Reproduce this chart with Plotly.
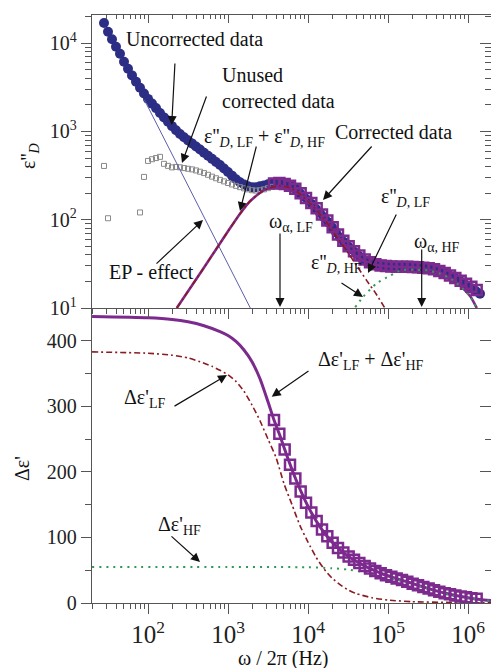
import plotly.graph_objects as go

FONT = "Liberation Serif"

# ---------------- data ----------------
# frequency grid of the measured (uncorrected) data, Hz
freq_meas = [28.18, 31.62, 35.48, 39.81, 44.67, 50.12, 56.23, 63.10, 70.79, 79.43, 89.13,
             100, 112.2, 125.9, 141.3, 158.5, 177.8, 199.5, 223.9, 251.2, 281.8, 316.2, 354.8,
             398.1, 446.7, 501.2, 562.3, 631.0, 707.9, 794.3, 891.3,
             1000, 1122, 1259, 1413, 1585, 1778, 1995, 2239, 2512, 2818, 3162, 3548, 3981,
             4467, 5012, 5623, 6310, 7079, 7943, 8913,
             10000, 11220, 12590, 14130, 15850, 17780, 19950, 22390, 25120, 28180, 31620,
             35480, 39810, 44670, 50120, 56230, 63100, 70790, 79430, 89130,
             100000, 112200, 125900, 141300, 158500, 177800, 199500, 223900, 251200, 281800,
             316200, 354800, 398100, 446700, 501200, 562300, 631000, 707900, 794300, 891300,
             1000000, 1122000, 1259000, 1413000]
eps_uncorrected = [16980, 13490, 11090, 9120, 7590, 6170, 5130, 4320, 3670, 3130, 2690,
                   2340, 2070, 1840, 1620, 1445, 1290, 1150, 1035, 938, 861, 794, 733,
                   676, 624, 575, 531, 490, 452, 417, 380,
                   347, 316, 288, 266, 251, 239, 233, 234, 240, 245, 252, 258, 262,
                   262, 257, 248, 237, 221, 200, 182,
                   166, 150, 132, 119, 107, 94, 82, 72, 63, 56, 50,
                   46, 42, 38, 35, 33, 31.8, 30.9, 30.3, 30.0,
                   29.6, 29.4, 29.3, 29.3, 29.3, 29.2, 29.2, 29.0, 28.8, 28.5,
                   28.1, 27.5, 26.8, 26.0, 25.0, 23.9, 22.6, 21.4, 20.2, 19.1,
                   17.8, 16.6, 15.5, 14.5]
eps_unused = [407, 104, None, None, None, None, None, None, None, 121, 306,
              464, 485, 500, 516, 430, 408, 392, 397, 393, 385, 378, 372,
              362, 350, 338, 323, 308, 295, 283, 272,
              261, 251, 242, 234, 227, 221, 216, 214, 216, 221, 228, 236]

# frequency grid of the corrected data, Hz
freq_corr = [3758, 4383, 5109, 5957, 6945, 8098, 9441, 11010, 12830, 14960, 17440, 20340,
             23710, 27650, 32230, 37580, 43830, 51090, 59570, 69450, 80980, 94410, 110100,
             128300, 149600, 174400, 203400, 237100, 276500, 322300, 375800, 438300, 511000,
             595700, 694500, 809800, 944100, 1101000, 1283000]
eps_corrected = [258, 260, 254, 243, 224, 200, 176, 155, 135, 115, 98, 82, 68, 58, 50, 44,
                 39.4, 35.5, 33.0, 31.4, 30.4, 29.9, 29.5, 29.3, 29.3, 29.3, 29.2, 29.0,
                 28.6, 28.2, 27.4, 26.3, 25.0, 23.4, 21.9, 20.4, 18.8, 17.4, 16.0]
deps_corrected = [279, 258, 234, 211, 190, 170, 153, 138, 125, 112, 102, 92, 84, 77, 71, 66,
                  61, 56.5, 52.5, 48.8, 45.5, 42.5, 40, 37.5, 35, 32.5, 29.5, 27, 24.5, 22,
                  19.5, 17.2, 15, 13.2, 11.5, 10, 8.6, 7.4, 6.3]

# electrode polarisation line
freq_ep = [90, 1900]
eps_ep = [2290, 10]

# fitted loss: LF + HF
freq_fit = [229, 490, 1000, 1413, 1884, 2754, 3548, 4467, 5623, 7244, 9120, 11750, 14790,
            18840, 23990, 30200, 40740, 60260, 89130, 141300, 223900, 316200, 446700,
            631000, 871000, 1072000, 1288000]
eps_fit = [10, 27.9, 74, 117, 162, 214, 234, 243, 234, 209, 174, 140, 110, 83, 63, 49,
           38, 32, 29.9, 29.2, 28.8, 27.5, 25.1, 21.4, 16.6, 13.5, 10]

freq_lf = [229, 490, 1000, 1413, 1884, 2754, 3548, 4467, 5623, 7244, 9120, 11750, 14790,
           18840, 23990, 30200, 40740, 53700, 70790, 91200]
eps_lf = [10, 27.9, 74, 117, 162, 214, 234, 243, 234, 209, 174, 140, 110, 83, 60, 45,
          30, 20.7, 14.5, 10]

freq_hf = [38900, 48980, 72440, 107200, 147900, 223900, 316200, 446700, 631000, 871000,
           1072000, 1288000]
eps_hf = [10.2, 13.4, 19.1, 23.4, 26.9, 27, 26.5, 24.5, 21, 16.4, 13.3, 9.9]

# real part (dielectric strength)
freq_re = [20, 100, 200, 316, 501, 794, 1000, 1259, 1585, 1995, 2512, 3162, 3758, 4467,
           5623, 7079, 8913, 11220, 14130, 17780, 22390, 28180, 35480, 44670, 56230, 70790,
           89130, 112200, 141300, 177800, 223900, 281800, 354800, 446700, 562300, 707900,
           891300, 1122000, 1413000, 1941000]
deps_total = [437, 435, 432.5, 429, 423, 414, 408, 399, 386, 368, 342, 307, 279, 255,
              220, 188, 160, 136, 116, 100, 87, 76, 67.5, 60.5, 54, 48.5, 43.5, 39.5, 35.5,
              32, 28, 24.3, 20.5, 17, 14, 11.3, 9, 7, 5.4, 3.8]
freq_re_lf = [20, 100, 200, 316, 447, 631, 794, 1000, 1259, 1585, 1995, 2512, 3162, 3981,
              5012, 6310, 7943, 10000, 12590, 15850, 19950, 25120, 31620, 39810, 63100,
              100000, 199500, 631000, 1941000]
deps_lf = [383, 381, 378, 374, 368, 361, 355, 348, 338, 323, 302, 278, 250, 222, 182, 150,
           118, 93, 70, 52, 38, 28, 20, 14.5, 8, 4.5, 2, 0.8, 0.3]
freq_re_hf = [20, 1000, 10000, 20000, 31620, 50120, 79430, 125900, 199500, 316200, 501200,
              794300, 1259000, 1941000]
deps_hf = [55, 55, 54.5, 53, 51, 47, 42, 36, 29, 21.5, 14.5, 9, 5.5, 3.5]

X_RANGE = [1.3, 6.2875]
Y_TOP_RANGE = [1, 4.32]
Y_BOT_RANGE = [0, 450]
Y_TOP_TICKS = [10, 100, 1000, 10000]
Y_TOP_LABELS = ["10<sup>1</sup>", "10<sup>2</sup>", "10<sup>3</sup>", "10<sup>4</sup>"]

NAVY = "#2c2d84"
PURPLE = "#7d2a8e"
MAROON = "#8b1a22"
GREEN = "#2f9a55"
EPC = "#5b5ea8"
GRAY = "#8a8a8a"
AX = "#555555"

fig = go.Figure()

# ---------------- top panel ----------------
fig.add_trace(go.Scatter(x=freq_meas, y=eps_uncorrected, mode="markers", xaxis="x2", yaxis="y2",
                         marker=dict(symbol="circle", size=10, color=NAVY), showlegend=False))
fig.add_trace(go.Scatter(x=freq_meas[:len(eps_unused)], y=eps_unused, mode="markers",
                         xaxis="x2", yaxis="y2",
                         marker=dict(symbol="square-open", size=5, color=GRAY, line=dict(width=1)),
                         showlegend=False))
fig.add_trace(go.Scatter(x=freq_corr, y=eps_corrected, mode="markers", xaxis="x2", yaxis="y2",
                         marker=dict(symbol="square-open", size=10, color=PURPLE,
                                     line=dict(width=2.5)), showlegend=False))
fig.add_trace(go.Scatter(x=freq_ep, y=eps_ep, mode="lines", xaxis="x2", yaxis="y2",
                         line=dict(color=EPC, width=1), showlegend=False))
fig.add_trace(go.Scatter(x=freq_fit, y=eps_fit, mode="lines", xaxis="x2", yaxis="y2",
                         line=dict(color=PURPLE, width=2.6, shape="spline", smoothing=0.6),
                         showlegend=False))
fig.add_trace(go.Scatter(x=freq_lf, y=eps_lf, mode="lines", xaxis="x2", yaxis="y2",
                         line=dict(color=MAROON, width=1.6, dash="6px,3px,2px,3px",
                                   shape="spline", smoothing=0.6), showlegend=False))
fig.add_trace(go.Scatter(x=freq_hf, y=eps_hf, mode="lines", xaxis="x2", yaxis="y2",
                         line=dict(color=GREEN, width=2, dash="2px,5px",
                                   shape="spline", smoothing=0.6), showlegend=False))

# ---------------- bottom panel ----------------
fig.add_trace(go.Scatter(x=freq_re, y=deps_total, mode="lines", xaxis="x", yaxis="y",
                         line=dict(color=PURPLE, width=3, shape="spline", smoothing=0.6),
                         showlegend=False))
fig.add_trace(go.Scatter(x=freq_re_lf, y=deps_lf, mode="lines", xaxis="x", yaxis="y",
                         line=dict(color=MAROON, width=1.6, dash="6px,3px,2px,3px",
                                   shape="spline", smoothing=0.6), showlegend=False))
fig.add_trace(go.Scatter(x=freq_re_hf, y=deps_hf, mode="lines", xaxis="x", yaxis="y",
                         line=dict(color=GREEN, width=2, dash="2px,5px",
                                   shape="spline", smoothing=0.6), showlegend=False))
fig.add_trace(go.Scatter(x=freq_corr, y=deps_corrected, mode="markers", xaxis="x", yaxis="y",
                         marker=dict(symbol="square-open", size=10, color=PURPLE,
                                     line=dict(width=2.5)), showlegend=False))

# dummy traces to activate the mirror axes
fig.add_trace(go.Scatter(x=[], y=[], xaxis="x3", yaxis="y3", showlegend=False, hoverinfo="skip"))
fig.add_trace(go.Scatter(x=[], y=[], xaxis="x", yaxis="y4", showlegend=False, hoverinfo="skip"))

SPLIT = 295 / 588
tickfont = dict(family=FONT, size=20, color="#222")

common_x = dict(type="log", range=X_RANGE, dtick=1, exponentformat="power", showgrid=False,
                zeroline=False, showline=True, linecolor=AX, linewidth=1.3,
                tickcolor=AX, tickwidth=1.3, tickfont=tickfont)

fig.update_layout(
    width=491, height=668,
    margin=dict(l=92, r=0, t=15, b=65),
    paper_bgcolor="white", plot_bgcolor="white",
    font=dict(family=FONT),
    xaxis=dict(**common_x, domain=[0, 1], anchor="y", ticks="outside", ticklen=10,
               minor=dict(dtick="D1", ticks="outside", ticklen=5, tickcolor=AX, tickwidth=1.1)),
    yaxis=dict(domain=[0, SPLIT], anchor="x", range=Y_BOT_RANGE, dtick=100, showgrid=False,
               zeroline=False, showline=True, linecolor=AX, linewidth=1.3, ticks="outside",
               ticklen=10, tickcolor=AX, tickwidth=1.3, tickfont=tickfont,
               minor=dict(dtick=50, ticks="outside", ticklen=6, tickcolor=AX, tickwidth=1.1)),
    xaxis2=dict(**common_x, domain=[0, 1], anchor="y2", ticks="outside", ticklen=10,
                showticklabels=False,
                minor=dict(dtick="D1", ticks="outside", ticklen=5, tickcolor=AX, tickwidth=1.1)),
    yaxis2=dict(domain=[SPLIT, 1], anchor="x2", type="log", range=Y_TOP_RANGE,
                tickmode="array", tickvals=Y_TOP_TICKS, ticktext=Y_TOP_LABELS,
                showgrid=False, zeroline=False, showline=True,
                linecolor=AX, linewidth=1.3, ticks="outside", ticklen=10, tickcolor=AX,
                tickwidth=1.3, tickfont=tickfont,
                minor=dict(dtick="D1", ticks="outside", ticklen=6, tickcolor=AX, tickwidth=1.1)),
    xaxis3=dict(**common_x, overlaying="x2", anchor="y2", side="top", ticks="inside",
                ticklen=8, showticklabels=False,
                minor=dict(dtick="D1", ticks="inside", ticklen=4, tickcolor=AX, tickwidth=1.1)),
    yaxis3=dict(overlaying="y2", anchor="x2", side="right", type="log", range=Y_TOP_RANGE,
                dtick=1, showgrid=False, zeroline=False, showline=False, ticks="inside",
                ticklen=11, tickcolor=AX, tickwidth=1.3, showticklabels=False,
                minor=dict(dtick="D1", ticks="inside", ticklen=6, tickcolor=AX, tickwidth=1.1)),
    yaxis4=dict(overlaying="y", anchor="x", side="right", range=Y_BOT_RANGE, dtick=100,
                showgrid=False, zeroline=False, showline=False, ticks="inside", ticklen=11,
                tickcolor=AX, tickwidth=1.3, showticklabels=False,
                minor=dict(dtick=50, ticks="inside", ticklen=6, tickcolor=AX, tickwidth=1.1)),
)


def P(px, py):
    return (px - 92) / 399, (603 - py) / 588


anns = []
TF = dict(family=FONT, size=20, color="#111")


def text(px, py, s, **kw):
    x, y = P(px, py)
    d = dict(x=x, y=y, xref="paper", yref="paper", text=s, showarrow=False,
             xanchor="left", yanchor="middle", font=TF, align="left")
    d.update(kw)
    anns.append(d)


def arrow(hx, hy, tx, ty):
    x, y = P(hx, hy)
    anns.append(dict(x=x, y=y, xref="paper", yref="paper", text="", showarrow=True,
                     ax=tx - hx, ay=ty - hy, arrowhead=2, arrowsize=1.5, arrowwidth=1.2,
                     arrowcolor="#111", standoff=0, startstandoff=0))


text(124, 39, "Uncorrected data")
arrow(171.7, 125, 175, 62)
text(220, 88, "Unused<br>corrected data")
arrow(182, 163, 207, 95)
text(202, 137, "ε''<sub><i>D</i>, LF</sub> + ε''<sub><i>D</i>, HF</sub>")
arrow(240, 211, 256.7, 145)
text(333, 132, "Corrected data")
arrow(323, 200, 373, 145)
text(379, 197, "ε''<sub><i>D</i>, LF</sub>")
arrow(368, 273, 397, 213)
text(309, 263, "ε''<sub><i>D</i>, HF</sub>")
arrow(363, 297, 340, 282)
text(267, 222, "ω<sub>α, LF</sub>")
arrow(280, 307, 280, 232)
text(412, 242, "ω<sub>α, HF</sub>")
arrow(421.7, 307, 421.7, 248)
text(107, 272, "EP - effect")
arrow(203, 220, 155, 265)

text(122, 398, "Δε'<sub>LF</sub>")
arrow(227, 375, 173, 407)
text(156, 525, "Δε'<sub>HF</sub>")
arrow(200, 562, 170, 535)
text(316, 360, "Δε'<sub>LF</sub> + Δε'<sub>HF</sub>")
arrow(271.7, 396.7, 310, 370)

# axis titles
x, y = P(283, 658)
anns.append(dict(x=x, y=y, xref="paper", yref="paper", text="ω / 2π (Hz)", showarrow=False,
                 xanchor="center", yanchor="middle", font=TF))
x, y = P(29, 156)
anns.append(dict(x=x, y=y, xref="paper", yref="paper", text="ε''<sub><i>D</i></sub>",
                 showarrow=False, textangle=-90, xanchor="center", yanchor="middle", font=TF))
x, y = P(22, 469)
anns.append(dict(x=x, y=y, xref="paper", yref="paper", text="Δε'", showarrow=False,
                 textangle=-90, xanchor="center", yanchor="middle", font=TF))

fig.update_layout(annotations=anns)
fig.write_html("out.html")
